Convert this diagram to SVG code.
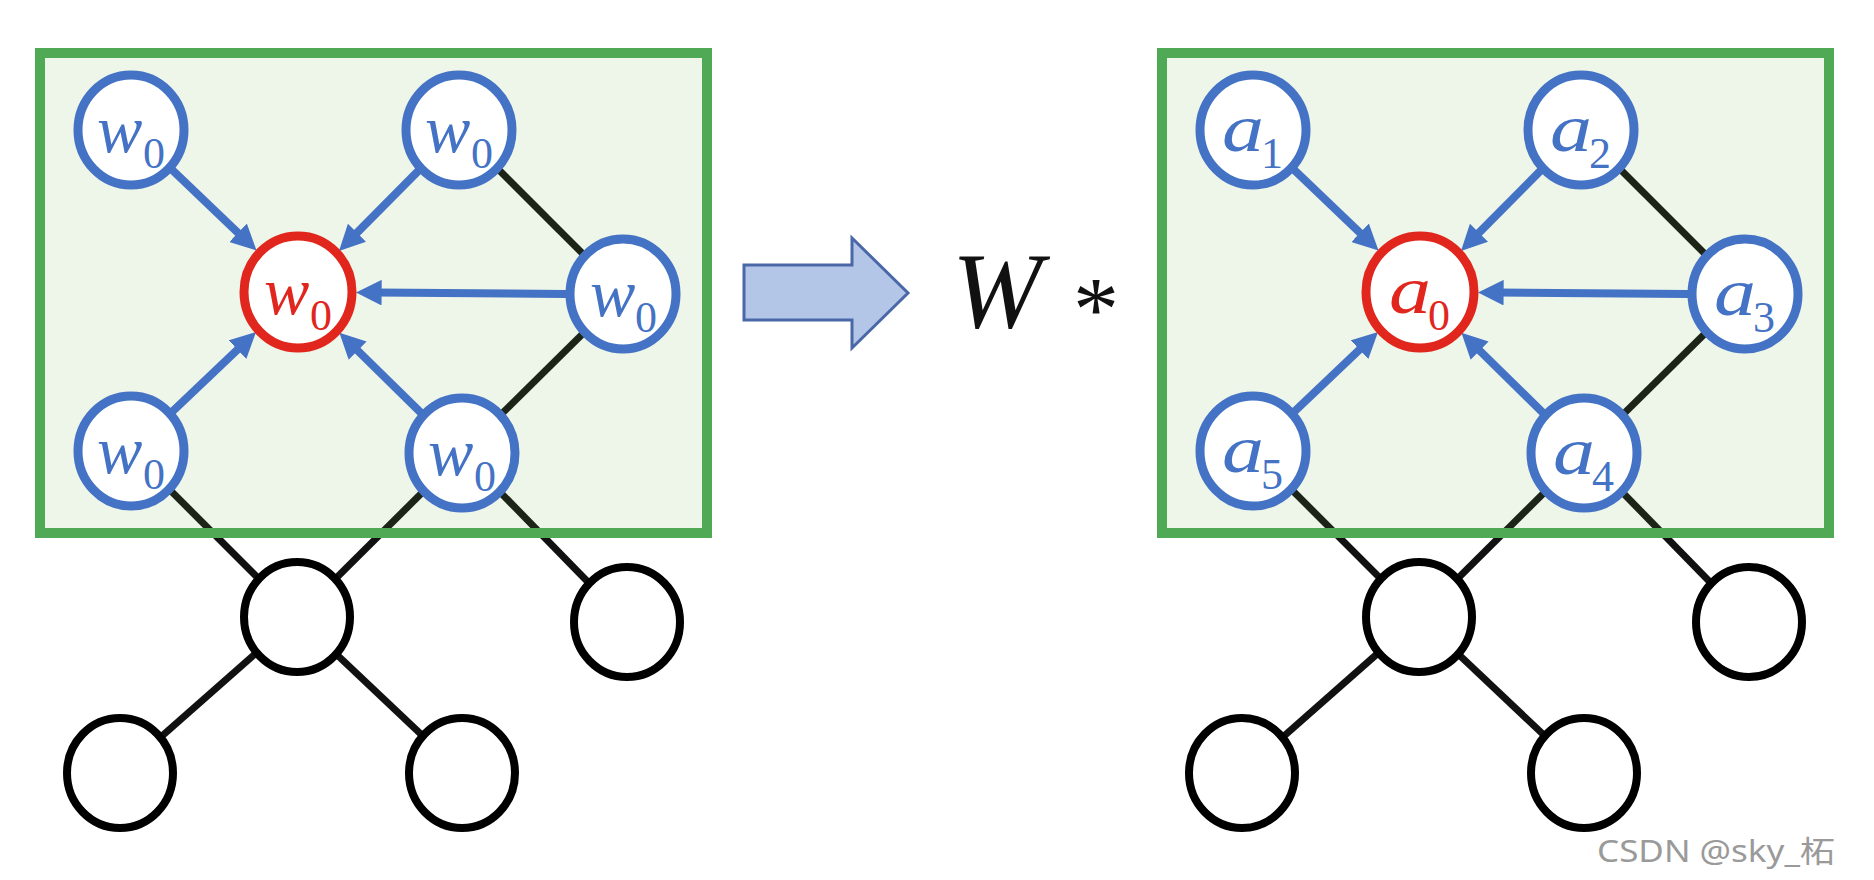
<svg xmlns="http://www.w3.org/2000/svg" width="1874" height="880" viewBox="0 0 1874 880">
<style>
.bg{fill:#ffffff}
.frame{fill:#70AD47;fill-opacity:0.12;stroke:#4FA955;stroke-width:10}
.tree{stroke:#111111;stroke-width:7;fill:none}
.arr{stroke:#4472C4;stroke-width:8;fill:none;marker-end:url(#ah)}
.bn{fill:#ffffff;stroke:#4472C4;stroke-width:9}
.rn{fill:#ffffff;stroke:#E0261D;stroke-width:9}
.kn{fill:#ffffff;stroke:#000000;stroke-width:8}
.v{font-family:"Liberation Serif","DejaVu Serif",serif;font-style:italic;font-size:68px;fill:#4472C4}
.s{font-family:"Liberation Serif","DejaVu Serif",serif;font-size:44px;fill:#4472C4}
.red{fill:#E0261D}
</style>
<defs>
<marker id="ah" viewBox="0 0 10 10" refX="2" refY="5" markerWidth="3.2" markerHeight="3.2" orient="auto">
<path d="M0,0 L10,5 L0,10 z" fill="#4472C4"/>
</marker>
</defs>
<rect class="bg" x="0" y="0" width="1874" height="880"/>

<!-- LEFT PANEL -->
<g id="left-panel">
<g id="left-connectors">
<g id="left-tree-lines">
<line class="tree" x1="459" y1="130" x2="623" y2="294"/>
<line class="tree" x1="623" y1="294" x2="462" y2="453"/>
<line class="tree" x1="131" y1="451" x2="297" y2="617"/>
<line class="tree" x1="462" y1="453" x2="297" y2="617"/>
<line class="tree" x1="462" y1="453" x2="627" y2="622"/>
<line class="tree" x1="297" y1="617" x2="120" y2="773"/>
<line class="tree" x1="297" y1="617" x2="462" y2="773"/>
</g>
</g>
<rect id="left-frame" class="frame" x="40" y="53" width="667" height="480"/>
<g id="left-arrows">
<line class="arr" x1="171.9" y1="169.7" x2="241.7" y2="236.3"/>
<line class="arr" x1="418.8" y1="170.4" x2="353.4" y2="236.4"/>
<line class="arr" x1="566" y1="294" x2="376.5" y2="292.6"/>
<line class="arr" x1="172.3" y1="411.7" x2="241.2" y2="346.1"/>
<line class="arr" x1="421.3" y1="413.1" x2="354.0" y2="347.0"/>
</g>
<g id="L-w-tl"><ellipse class="bn" cx="131" cy="130" rx="53" ry="55"/><text class="v" x="97" y="152">w</text><text class="s" x="143" y="168">0</text></g>
<g id="L-w-tr"><ellipse class="bn" cx="459" cy="130" rx="53" ry="55"/><text class="v" x="425" y="152">w</text><text class="s" x="471" y="168">0</text></g>
<g id="L-w-r"><ellipse class="bn" cx="623" cy="294" rx="53" ry="55"/><text class="v" x="590" y="316">w</text><text class="s" x="635" y="332">0</text></g>
<g id="L-w-bl"><ellipse class="bn" cx="131" cy="451" rx="53" ry="55"/><text class="v" x="97" y="473">w</text><text class="s" x="143" y="489">0</text></g>
<g id="L-w-br"><ellipse class="bn" cx="462" cy="453" rx="53" ry="55"/><text class="v" x="428" y="475">w</text><text class="s" x="474" y="491">0</text></g>
<g id="L-w-center"><ellipse class="rn" cx="298" cy="292" rx="54" ry="56"/><text class="v red" x="264" y="314">w</text><text class="s red" x="310" y="330">0</text></g>
<g id="L-k-mid"><ellipse class="kn" cx="297" cy="617" rx="53" ry="55"/></g>
<g id="L-k-right"><ellipse class="kn" cx="627" cy="622" rx="53" ry="55"/></g>
<g id="L-k-bl"><ellipse class="kn" cx="120" cy="773" rx="53" ry="55"/></g>
<g id="L-k-bm"><ellipse class="kn" cx="462" cy="773" rx="53" ry="55"/></g>
</g>

<!-- MIDDLE -->
<g id="transform-arrow">
<polygon points="744,265 852,265 852,238 908,293 852,348 852,320 744,320" fill="#B4C6E7" stroke="#4A68A8" stroke-width="3" stroke-linejoin="miter"/>
</g>
<g id="formula">
<text x="952" y="327" font-family="Liberation Serif, DejaVu Serif, serif" font-style="italic" font-size="108" fill="#111111">W</text>
<text x="1073" y="340" font-family="Liberation Serif, DejaVu Serif, serif" font-size="92" fill="#111111">*</text>
</g>

<!-- RIGHT PANEL -->
<g id="right-panel" transform="translate(1122,0)">
<g id="right-connectors">
<g id="right-tree-lines">
<line class="tree" x1="459" y1="130" x2="623" y2="294"/>
<line class="tree" x1="623" y1="294" x2="462" y2="453"/>
<line class="tree" x1="131" y1="451" x2="297" y2="617"/>
<line class="tree" x1="462" y1="453" x2="297" y2="617"/>
<line class="tree" x1="462" y1="453" x2="627" y2="622"/>
<line class="tree" x1="297" y1="617" x2="120" y2="773"/>
<line class="tree" x1="297" y1="617" x2="462" y2="773"/>
</g>
</g>
<rect id="right-frame" class="frame" x="40" y="53" width="667" height="480"/>
<g id="right-arrows">
<line class="arr" x1="171.9" y1="169.7" x2="241.7" y2="236.3"/>
<line class="arr" x1="418.8" y1="170.4" x2="353.4" y2="236.4"/>
<line class="arr" x1="566" y1="294" x2="376.5" y2="292.6"/>
<line class="arr" x1="172.3" y1="411.7" x2="241.2" y2="346.1"/>
<line class="arr" x1="421.3" y1="413.1" x2="354.0" y2="347.0"/>
</g>
<g id="R-a1"><ellipse class="bn" cx="131" cy="130" rx="53" ry="55"/><text class="v" x="100" y="151" textLength="42" lengthAdjust="spacingAndGlyphs">a</text><text class="s" x="139" y="168">1</text></g>
<g id="R-a2"><ellipse class="bn" cx="459" cy="130" rx="53" ry="55"/><text class="v" x="428" y="151" textLength="42" lengthAdjust="spacingAndGlyphs">a</text><text class="s" x="467" y="168">2</text></g>
<g id="R-a3"><ellipse class="bn" cx="623" cy="294" rx="53" ry="55"/><text class="v" x="592" y="315" textLength="42" lengthAdjust="spacingAndGlyphs">a</text><text class="s" x="631" y="332">3</text></g>
<g id="R-a5"><ellipse class="bn" cx="131" cy="451" rx="53" ry="55"/><text class="v" x="100" y="472" textLength="42" lengthAdjust="spacingAndGlyphs">a</text><text class="s" x="139" y="489">5</text></g>
<g id="R-a4"><ellipse class="bn" cx="462" cy="453" rx="53" ry="55"/><text class="v" x="431" y="474" textLength="42" lengthAdjust="spacingAndGlyphs">a</text><text class="s" x="470" y="491">4</text></g>
<g id="R-a0"><ellipse class="rn" cx="298" cy="292" rx="54" ry="56"/><text class="v red" x="267" y="313" textLength="42" lengthAdjust="spacingAndGlyphs">a</text><text class="s red" x="306" y="330">0</text></g>
<g id="R-k-mid"><ellipse class="kn" cx="297" cy="617" rx="53" ry="55"/></g>
<g id="R-k-right"><ellipse class="kn" cx="627" cy="622" rx="53" ry="55"/></g>
<g id="R-k-bl"><ellipse class="kn" cx="120" cy="773" rx="53" ry="55"/></g>
<g id="R-k-bm"><ellipse class="kn" cx="462" cy="773" rx="53" ry="55"/></g>
</g>

<text id="watermark" x="1597" y="862" font-family="Noto Sans, Noto Sans CJK SC, sans-serif" font-size="30" fill="#9a9a9a" textLength="238" lengthAdjust="spacingAndGlyphs">CSDN @sky_柘</text>
</svg>
